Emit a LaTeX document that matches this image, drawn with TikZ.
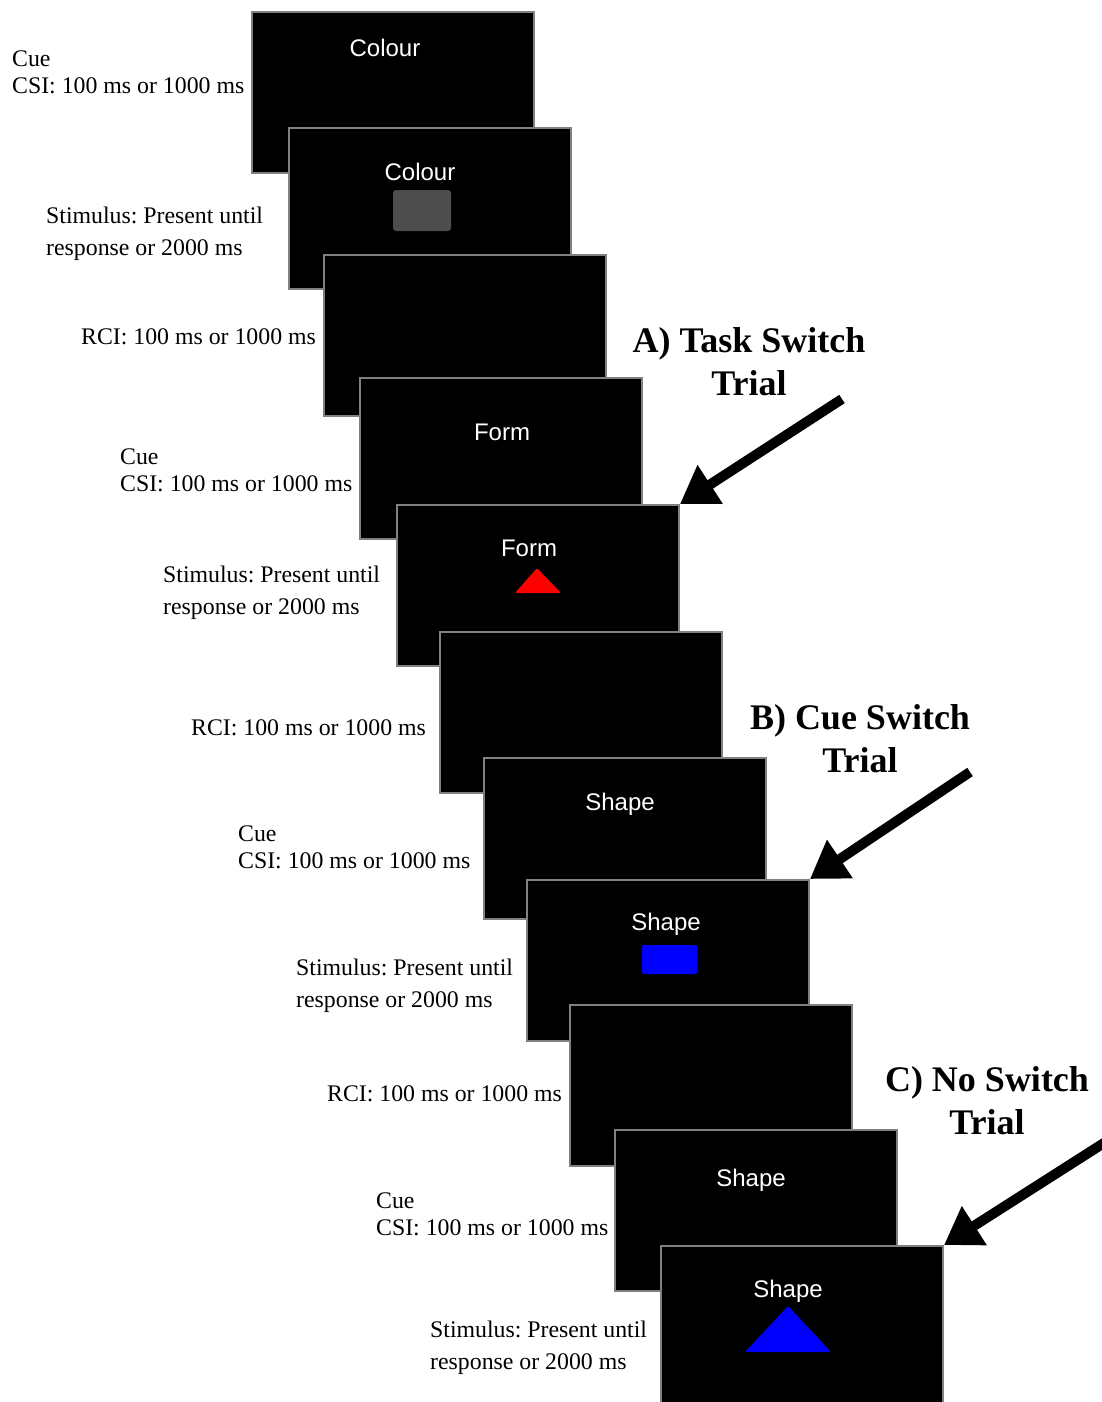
\documentclass[tikz,border=0pt]{standalone}
\usepackage{fontspec}
\setmainfont{Liberation Serif}
\newfontfamily\screenfont{Liberation Sans}
\usetikzlibrary{arrows.meta}
\frenchspacing
\definecolor{frame}{RGB}{128,128,128}
\definecolor{patchgray}{RGB}{77,77,77}
\definecolor{stimred}{RGB}{255,0,0}
\definecolor{stimblue}{RGB}{0,0,255}

\begin{document}
\begin{tikzpicture}[x=1pt,y=-1pt,
  screenbox/.style={draw=frame, fill=black, line width=2pt, minimum width=282pt,
    minimum height=161pt, inner sep=0pt, anchor=north west},
  cue/.style={text=white, font=\screenfont\fontsize{24}{28}\selectfont, anchor=base, inner sep=0pt},
  % multi-line labels are placed by the baseline of their last line
  timing/.style={font=\fontsize{23.8}{27}\selectfont, align=left, anchor=base west, inner sep=0pt},
  stimlabel/.style={timing, font=\fontsize{23.8}{31.5}\selectfont},
  trial/.style={font=\bfseries\fontsize{36}{43}\selectfont, align=center, anchor=base, inner sep=0pt},
  pointer/.style={line width=10pt, -{Triangle[length=36pt,width=44pt]}},
]
\useasboundingbox (0,0) rectangle (1101,1402);

% ---- trial 1: colour task ----
\node[screenbox] (s1) at (251,11) {};
\node[cue] (c1) at (385,57) {Colour};
\node[screenbox] (s2) at (288,127) {};
\node[cue] (c2) at (420,180) {Colour};
\fill[patchgray, rounded corners=3pt] (393,190) rectangle (451,231);
\node[screenbox] (s3) at (323,254) {};

% ---- trial 2: form task ----
\node[screenbox] (s4) at (359,377) {};
\node[cue] (c4) at (502,440) {Form};
\node[screenbox] (s5) at (396,504) {};
\node[cue] (c5) at (529,556) {Form};
\fill[stimred, rounded corners=2pt] (537,568) -- (561,593) -- (515,593) -- cycle;
\node[screenbox] (s6) at (439,631) {};

% ---- trial 3: shape task ----
\node[screenbox] (s7) at (483,757) {};
\node[cue] (c7) at (620,810) {Shape};
\node[screenbox] (s8) at (526,879) {};
\node[cue] (c8) at (666,930) {Shape};
\fill[stimblue, rounded corners=2pt] (642,945) rectangle (697,974);
\node[screenbox] (s9) at (569,1004) {};

% ---- trial 4: shape task again ----
\node[screenbox] (s10) at (614,1129) {};
\node[cue] (c10) at (751,1186) {Shape};
\node[screenbox] (s11) at (660,1245) {};
\node[cue] (c11) at (788,1297) {Shape};
\fill[stimblue, rounded corners=2pt] (788,1306) -- (831,1352) -- (745,1352) -- cycle;

% ---- timing labels ----
\node[timing] (l1) at (12,94) {Cue\\CSI: 100 ms or 1000 ms};
\node[stimlabel] (l2) at (46,255) {Stimulus: Present until\\response or 2000 ms};
\node[timing] (l3) at (81,344) {RCI: 100 ms or 1000 ms};
\node[timing] (l4) at (120,491) {Cue\\CSI: 100 ms or 1000 ms};
\node[stimlabel] (l5) at (163,614) {Stimulus: Present until\\response or 2000 ms};
\node[timing] (l6) at (191,735) {RCI: 100 ms or 1000 ms};
\node[timing] (l7) at (238,868) {Cue\\CSI: 100 ms or 1000 ms};
\node[stimlabel] (l8) at (296,1007) {Stimulus: Present until\\response or 2000 ms};
\node[timing] (l9) at (327,1101) {RCI: 100 ms or 1000 ms};
\node[timing] (l10) at (376,1235) {Cue\\CSI: 100 ms or 1000 ms};
\node[stimlabel] (l11) at (430,1369) {Stimulus: Present until\\response or 2000 ms};

% ---- trial type annotations ----
\node[trial] (tA) at (749,395) {A) Task Switch\\Trial};
\node[trial] (tB) at (860,772) {B) Cue Switch\\Trial};
\node[trial] (tC) at (987,1134) {C) No Switch\\Trial};

\coordinate (pA) at (842,399);
\coordinate (pB) at (970,772);
\coordinate (pC) at (1118,1134);
\draw[pointer] (pA) -- (s5.north east);
\draw[pointer] (pB) -- (s8.north east);
\draw[pointer] (pC) -- (s11.north east);
\end{tikzpicture}
\end{document}
